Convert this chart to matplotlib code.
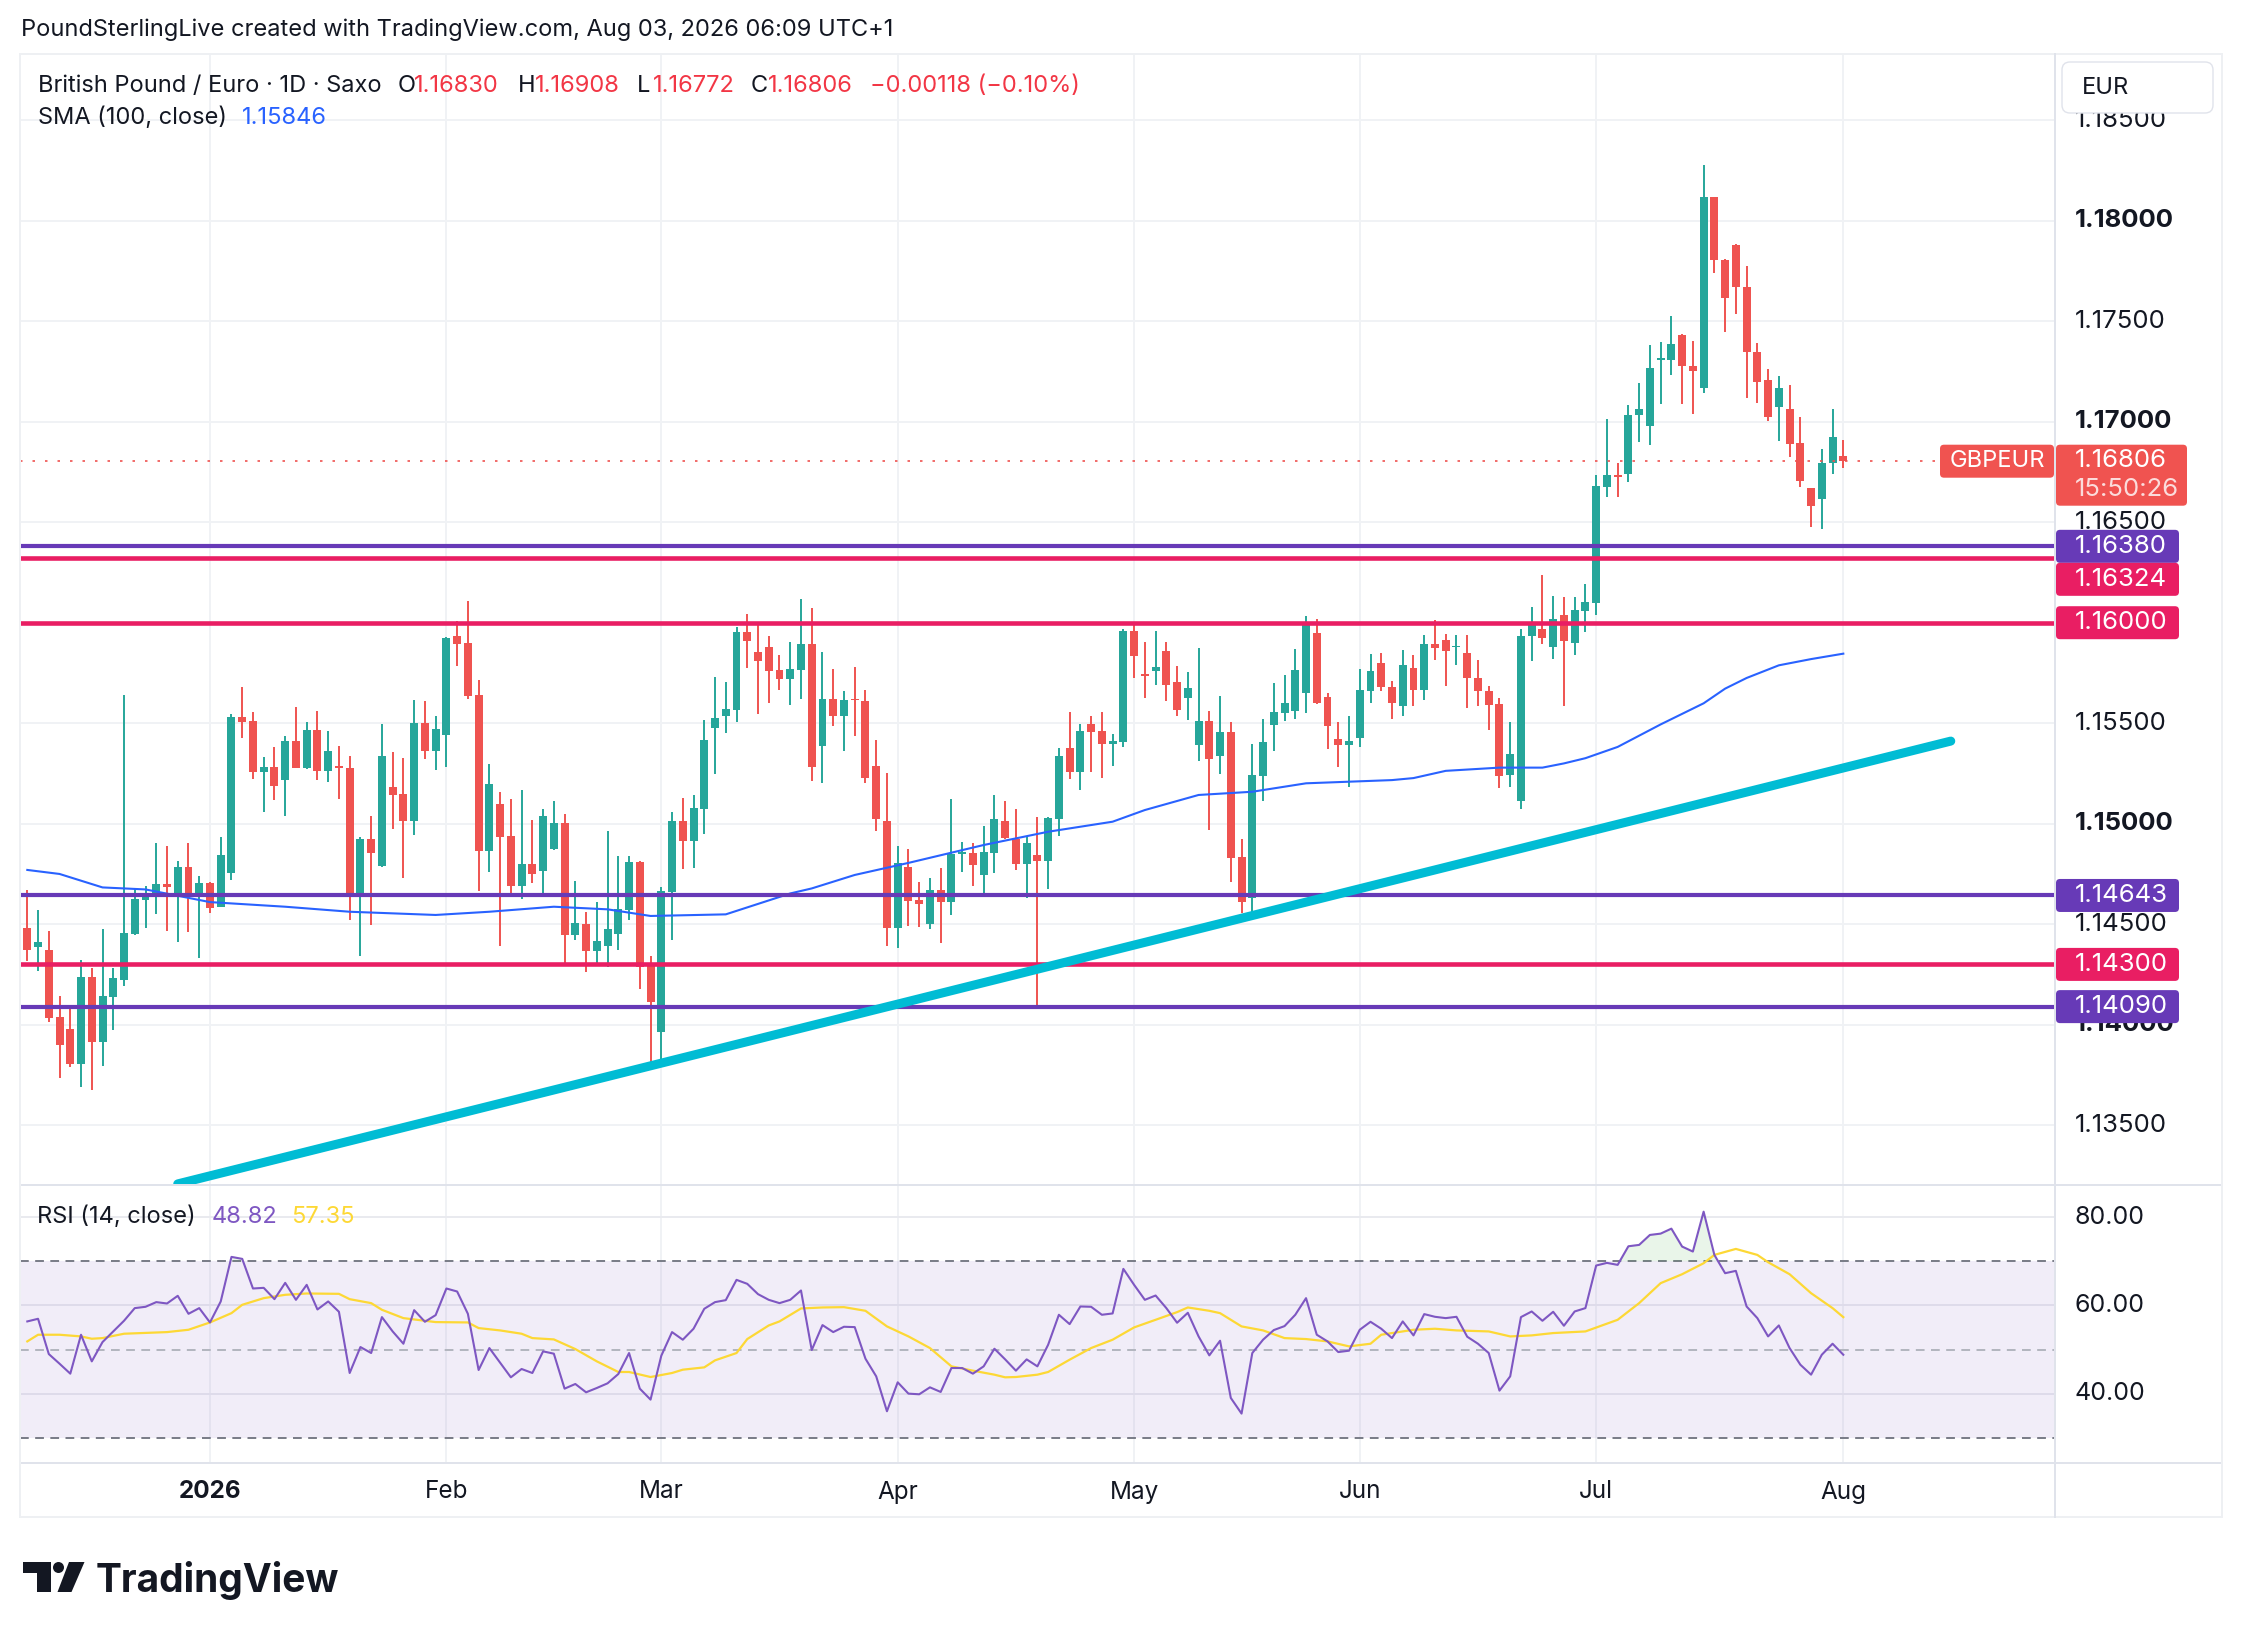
import numpy as np
import pandas as pd
import matplotlib
matplotlib.use('Agg')
import matplotlib.pyplot as plt
from matplotlib.patches import FancyBboxPatch, Polygon, Circle

plt.rcParams['font.family'] = ['Inter', 'DejaVu Sans']

W, H = 2242, 1638
UP, DOWN = '#26a69a', '#ef5350'
GRID = '#f0f2f5'
BORDER = '#e0e3eb'
TXT = '#131722'

# daily bars, Dec 9 2025 .. Aug 3 2026
dates = pd.bdate_range('2025-12-09', '2026-08-03')

opens = [1.14481, 1.14388, 1.14371, 1.14038, 1.13978, 1.13806, 1.14237, 1.13915, 1.14139, 1.14224,
         1.14453, 1.14622, 1.14642, 1.14700, 1.14642, 1.14784, 1.14642, 1.14705, 1.14587, 1.14756,
         1.15531, 1.15511, 1.15259, 1.15282, 1.15219, 1.15411, 1.15279, 1.15466, 1.15264, 1.15285,
         1.15277, 1.14657, 1.14924, 1.14791, 1.15182, 1.15148, 1.15015, 1.15501, 1.15363, 1.15443,
         1.15934, 1.15899, 1.15640, 1.14866, 1.15098, 1.14939, 1.14692, 1.14799, 1.14766, 1.14876,
         1.15003, 1.14448, 1.14501, 1.14368, 1.14393, 1.14453, 1.14572, 1.14809, 1.14294, 1.13965,
         1.14662, 1.15013, 1.14915, 1.15075, 1.15478, 1.15537, 1.15567, 1.15954, 1.15854, 1.15879,
         1.15765, 1.15721, 1.15766, 1.15894, 1.15388, 1.15620, 1.15537, 1.15620, 1.15610, 1.15287,
         1.15013, 1.14483, 1.14784, 1.14622, 1.14502, 1.14670, 1.14612, 1.14849, 1.14854, 1.14746,
         1.14856, 1.15013, 1.14924, 1.14801, 1.14844, 1.14816, 1.15025, 1.15376, 1.15259, 1.15496,
         1.15461, 1.15398, 1.15408, 1.15959, 1.15743, 1.15761, 1.15859, 1.15705, 1.15627, 1.15393,
         1.15511, 1.15338, 1.15456, 1.14834, 1.14632, 1.15239, 1.15493, 1.15552, 1.15562, 1.15652,
         1.15949, 1.15630, 1.15421, 1.15393, 1.15428, 1.15662, 1.15800, 1.15679, 1.15588, 1.15775,
         1.15664, 1.15893, 1.15912, 1.15878, 1.15847, 1.15727, 1.15660, 1.15597, 1.15244, 1.15113,
         1.15933, 1.15971, 1.15878, 1.16040, 1.15897, 1.16057, 1.16097, 1.16676, 1.16737, 1.16742,
         1.17032, 1.16981, 1.17307, 1.17305, 1.17431, 1.17277, 1.17166, 1.18118, 1.17805, 1.17878,
         1.17672, 1.17349, 1.17206, 1.17071, 1.17063, 1.16895, 1.16670, 1.16616, 1.16796, 1.16830]

highs = [1.14670, 1.14570, 1.14466, 1.14143, 1.14083, 1.14322, 1.14284, 1.14476, 1.14284, 1.15640,
         1.14680, 1.14690, 1.14904, 1.14889, 1.14814, 1.14904, 1.14740, 1.14710, 1.14934, 1.15546,
         1.15680, 1.15556, 1.15332, 1.15381, 1.15436, 1.15580, 1.15506, 1.15561, 1.15461, 1.15386,
         1.15337, 1.14934, 1.15038, 1.15496, 1.15357, 1.15327, 1.15615, 1.15610, 1.15536, 1.15930,
         1.16008, 1.16108, 1.15715, 1.15297, 1.15158, 1.15123, 1.15167, 1.15018, 1.15073, 1.15113,
         1.15048, 1.14715, 1.14561, 1.14610, 1.14964, 1.14839, 1.14839, 1.14814, 1.14342, 1.14685,
         1.15058, 1.15128, 1.15143, 1.15516, 1.15730, 1.15705, 1.15978, 1.16043, 1.16003, 1.15934,
         1.15839, 1.15904, 1.16118, 1.16073, 1.15854, 1.15769, 1.15660, 1.15779, 1.15665, 1.15416,
         1.15252, 1.14889, 1.14874, 1.14710, 1.14730, 1.14779, 1.15123, 1.14909, 1.14904, 1.14988,
         1.15143, 1.15113, 1.15073, 1.14934, 1.15033, 1.15033, 1.15376, 1.15556, 1.15496, 1.15536,
         1.15556, 1.15446, 1.15968, 1.16003, 1.15904, 1.15959, 1.15904, 1.15784, 1.15755, 1.15874,
         1.15561, 1.15635, 1.15506, 1.14924, 1.15396, 1.15521, 1.15700, 1.15740, 1.15869, 1.16033,
         1.16018, 1.15650, 1.15506, 1.15536, 1.15769, 1.15844, 1.15849, 1.15710, 1.15866, 1.15840,
         1.15941, 1.16011, 1.15945, 1.15941, 1.15941, 1.15815, 1.15685, 1.15626, 1.15504, 1.15971,
         1.16076, 1.16239, 1.16134, 1.16130, 1.16130, 1.16195, 1.16737, 1.17015, 1.16796, 1.17084,
         1.17193, 1.17382, 1.17395, 1.17527, 1.17437, 1.17403, 1.18277, 1.18118, 1.17809, 1.17882,
         1.17777, 1.17391, 1.17263, 1.17229, 1.17183, 1.17021, 1.16670, 1.16863, 1.17063, 1.16908]

lows = [1.14318, 1.14269, 1.14015, 1.13736, 1.13791, 1.13692, 1.13677, 1.13796, 1.13975, 1.14194,
        1.14448, 1.14483, 1.14552, 1.14468, 1.14413, 1.14463, 1.14333, 1.14557, 1.14584, 1.14721,
        1.15428, 1.15224, 1.15060, 1.15119, 1.15040, 1.15275, 1.15274, 1.15219, 1.15209, 1.15124,
        1.14522, 1.14343, 1.14497, 1.14786, 1.14975, 1.14731, 1.14945, 1.15323, 1.15269, 1.15284,
        1.15786, 1.15622, 1.14667, 1.14761, 1.14393, 1.14652, 1.14627, 1.14706, 1.14657, 1.14870,
        1.14299, 1.14423, 1.14264, 1.14303, 1.14289, 1.14373, 1.14522, 1.14179, 1.13776, 1.13796,
        1.14423, 1.14776, 1.14781, 1.14950, 1.15249, 1.15453, 1.15507, 1.15776, 1.15547, 1.15602,
        1.15667, 1.15592, 1.15622, 1.15214, 1.15204, 1.15488, 1.15363, 1.15438, 1.15204, 1.14965,
        1.14393, 1.14383, 1.14493, 1.14488, 1.14478, 1.14408, 1.14547, 1.14760, 1.14692, 1.14647,
        1.14756, 1.14925, 1.14771, 1.14632, 1.14098, 1.14677, 1.14940, 1.15224, 1.15169, 1.15259,
        1.15229, 1.15289, 1.15383, 1.15726, 1.15627, 1.15692, 1.15612, 1.15537, 1.15517, 1.15313,
        1.14970, 1.15249, 1.14711, 1.14557, 1.14552, 1.15114, 1.15363, 1.15512, 1.15522, 1.15552,
        1.15597, 1.15373, 1.15284, 1.15184, 1.15383, 1.15602, 1.15660, 1.15519, 1.15538, 1.15584,
        1.15613, 1.15813, 1.15683, 1.15788, 1.15578, 1.15588, 1.15468, 1.15179, 1.15183, 1.15074,
        1.15809, 1.15893, 1.15817, 1.15588, 1.15838, 1.15954, 1.16038, 1.16626, 1.16626, 1.16702,
        1.16901, 1.16884, 1.17086, 1.17231, 1.17086, 1.17036, 1.17145, 1.17742, 1.17447, 1.17536,
        1.17118, 1.17095, 1.17006, 1.16905, 1.16826, 1.16676, 1.16477, 1.16466, 1.16742, 1.16772]

closes = [1.14373, 1.14411, 1.14035, 1.13900, 1.13806, 1.14237, 1.13915, 1.14143, 1.14232, 1.14456,
          1.14625, 1.14647, 1.14700, 1.14687, 1.14784, 1.14642, 1.14705, 1.14582, 1.14844, 1.15531,
          1.15507, 1.15259, 1.15282, 1.15189, 1.15411, 1.15279, 1.15466, 1.15264, 1.15362, 1.15279,
          1.14633, 1.14924, 1.14856, 1.15337, 1.15144, 1.15015, 1.15501, 1.15363, 1.15471, 1.15924,
          1.15896, 1.15637, 1.14866, 1.15197, 1.14935, 1.14692, 1.14799, 1.14751, 1.15038, 1.15003,
          1.14448, 1.14507, 1.14368, 1.14418, 1.14478, 1.14577, 1.14809, 1.14289, 1.14114, 1.14665,
          1.15013, 1.14915, 1.15078, 1.15416, 1.15526, 1.15570, 1.15954, 1.15910, 1.15811, 1.15761,
          1.15721, 1.15769, 1.15894, 1.15284, 1.15620, 1.15537, 1.15615, 1.15614, 1.15229, 1.15025,
          1.14483, 1.14804, 1.14617, 1.14602, 1.14670, 1.14612, 1.14849, 1.14859, 1.14796, 1.14859,
          1.15023, 1.14930, 1.14801, 1.14904, 1.14816, 1.15028, 1.15337, 1.15259, 1.15461, 1.15458,
          1.15398, 1.15411, 1.15959, 1.15836, 1.15736, 1.15779, 1.15692, 1.15567, 1.15675, 1.15511,
          1.15323, 1.15456, 1.14831, 1.14612, 1.15242, 1.15406, 1.15556, 1.15600, 1.15765, 1.16003,
          1.15600, 1.15488, 1.15393, 1.15411, 1.15665, 1.15760, 1.15679, 1.15603, 1.15790, 1.15664,
          1.15895, 1.15872, 1.15857, 1.15884, 1.15723, 1.15658, 1.15592, 1.15239, 1.15349, 1.15935,
          1.16004, 1.15922, 1.16019, 1.15908, 1.16061, 1.16101, 1.16679, 1.16737, 1.16723, 1.17034,
          1.17063, 1.17269, 1.17315, 1.17389, 1.17275, 1.17250, 1.18118, 1.17805, 1.17616, 1.17670,
          1.17345, 1.17200, 1.17021, 1.17168, 1.16891, 1.16706, 1.16580, 1.16796, 1.16922, 1.16806]

# SMA(100) at these bars
sma_idx = [0, 3, 7, 11, 17, 24, 30, 38, 43, 49, 54, 58, 65, 71, 73, 77, 82, 89, 95, 101,
           104, 109, 114, 119, 127, 129, 132, 137, 141, 143, 145, 148, 152, 156, 158, 160, 163, 166, 169]
sma_val = [1.14770, 1.14750, 1.14683, 1.14673, 1.14610, 1.14587, 1.14562, 1.14546, 1.14562, 1.14587,
           1.14574, 1.14541, 1.14549, 1.14653, 1.14678, 1.14745, 1.14805, 1.14894, 1.14960, 1.15010,
           1.15068, 1.15143, 1.15159, 1.15201, 1.15217, 1.15227, 1.15263, 1.15279, 1.15279, 1.15300,
           1.15326, 1.15382, 1.15494, 1.15599, 1.15672, 1.15725, 1.15788, 1.15819, 1.15846]

rsi = [56.38, 56.98, 48.98, 46.79, 44.53, 53.36, 47.32, 51.70, 54.11, 56.53,
       59.40, 59.70, 60.76, 60.45, 62.19, 58.11, 59.40, 56.15, 60.91, 71.02,
       70.57, 63.85, 64.00, 61.43, 65.13, 61.28, 64.68, 59.09, 60.91, 58.57,
       44.68, 50.57, 49.21, 57.36, 54.11, 51.32, 58.94, 56.30, 57.81, 63.85,
       63.17, 58.11, 45.36, 50.34, 47.02, 43.70, 45.59, 44.68, 49.59, 49.06,
       41.13, 42.19, 40.30, 41.28, 42.34, 44.45, 49.21, 41.13, 38.64, 48.60,
       53.96, 52.23, 54.72, 59.25, 60.76, 61.21, 65.81, 64.91, 62.57, 61.28,
       60.53, 61.28, 63.40, 49.89, 55.55, 53.96, 55.17, 55.09, 47.92, 43.92,
       36.00, 42.57, 40.00, 39.85, 41.43, 40.38, 45.81, 45.81, 44.53, 46.19,
       50.19, 47.77, 45.21, 47.77, 46.19, 51.09, 57.89, 55.77, 59.77, 59.70,
       57.89, 58.19, 68.30, 64.68, 61.28, 62.26, 59.40, 56.08, 58.34, 52.98,
       48.68, 52.00, 39.02, 35.47, 49.21, 52.23, 54.42, 55.32, 57.89, 61.66,
       53.36, 51.85, 49.43, 49.74, 54.49, 56.30, 54.72, 52.60, 56.38, 53.21,
       58.04, 57.43, 57.13, 57.43, 52.91, 51.32, 49.21, 40.68, 43.92, 57.36,
       58.64, 56.53, 58.57, 55.40, 58.64, 59.40, 69.06, 69.66, 69.21, 73.43,
       73.74, 76.00, 76.30, 77.43, 73.36, 72.23, 81.28, 71.47, 67.32, 67.85,
       59.77, 57.13, 52.98, 55.47, 50.34, 46.57, 44.30, 48.83, 51.32, 48.82]

# RSI-based MA
rsi_ma_idx = [0, 1, 3, 5, 6, 7, 9, 13, 15, 17, 19, 20, 22, 24, 26, 29, 30, 32, 33, 35,
              38, 41, 42, 44, 46, 47, 49, 51, 53, 55, 56, 58, 60, 61, 63, 64, 66, 67, 69, 70,
              72, 74, 76, 78, 80, 82, 84, 86, 88, 90, 91, 92, 94, 95, 97, 99, 101, 103, 105, 107,
              108, 110, 111, 113, 115, 117, 119, 121, 123, 125, 126, 129, 131, 133, 136, 138, 140, 142, 145, 148,
              150, 152, 154, 156, 157, 159, 161, 162, 164, 166, 168, 169]
rsi_ma_val = [51.85, 53.36, 53.36, 52.98, 52.45, 52.60, 53.59, 53.96, 54.49, 56.15,
              58.26, 60.15, 61.66, 62.42, 62.72, 62.64, 61.43, 60.53, 59.02, 57.13,
              56.23, 56.15, 54.87, 54.34, 53.59, 52.60, 52.30, 50.11, 47.32, 44.91,
              44.91, 43.77, 44.68, 45.43, 45.96, 47.55, 49.21, 52.38, 55.47, 56.38,
              59.32, 59.55, 59.62, 58.79, 55.25, 52.98, 50.34, 46.19, 45.21, 44.30,
              43.70, 43.77, 44.30, 44.91, 47.70, 50.34, 52.23, 55.02, 56.75, 58.49,
              59.55, 58.79, 58.26, 55.25, 54.34, 52.60, 52.38, 51.85, 50.72, 51.32,
              53.36, 54.49, 54.72, 54.34, 54.11, 52.98, 53.21, 53.74, 54.11, 56.75,
              60.53, 65.06, 67.09, 69.58, 71.47, 72.83, 71.47, 69.81, 67.09, 62.79,
              59.40, 57.35]

levels = [1.16380, 1.16324, 1.16000, 1.14643, 1.14300, 1.14090]
level_colors = ['#673ab7', '#e91e63', '#e91e63', '#673ab7', '#e91e63', '#673ab7']

trend_idx = [14, 179]
trend_val = [1.13208, 1.15411]

last_price = 1.16806
countdown = '15:50:26'
price_ticks = [1.135, 1.140, 1.145, 1.150, 1.155, 1.160, 1.165, 1.170, 1.175, 1.180, 1.185]
rsi_ticks = [40, 60, 80]

# ---------------------------------------------------------------
fig = plt.figure(figsize=(W / 100, H / 100), dpi=100)
fig.patch.set_facecolor('white')


def rect(x0, y0, x1, y1):
    return [x0 / W, 1 - y1 / H, (x1 - x0) / W, (y1 - y0) / H]


ax = fig.add_axes(rect(20, 54, 2055, 1184))
ax2 = fig.add_axes(rect(20, 1185, 2055, 1462))
ov = fig.add_axes([0, 0, 1, 1], zorder=10)
ov.set_xlim(0, W)
ov.set_ylim(H, 0)
ov.axis('off')
ov.patch.set_alpha(0)

XL = (-0.68, 188.7)
for a in (ax, ax2):
    a.set_xlim(*XL)
    a.set_xticks([])
    a.set_yticks([])
    for s in a.spines.values():
        s.set_visible(False)
ax.set_ylim(1.132075, 1.188294)
ax2.set_ylim(24.49, 87.33)

x = np.arange(len(closes))
o, hi, lo, c = (np.array(v) for v in (opens, highs, lows, closes))
month_pos = [i for i in range(1, len(dates)) if dates[i].month != dates[i - 1].month]
month_lab = ['2026' if dates[i].month == 1 else dates[i].strftime('%b') for i in month_pos]

# grid
for p in price_ticks:
    ax.axhline(p, color=GRID, lw=1.4, zorder=0)
for a in (ax, ax2):
    for m in month_pos:
        a.axvline(m, color=GRID, lw=1.4, zorder=0)
for r in rsi_ticks:
    ax2.axhline(r, color='#e9eaef', lw=1.4, zorder=1)

# candles
col = np.where(c >= o, UP, DOWN)
body_lo = np.minimum(o, c)
body_h = np.maximum(np.abs(c - o), 0.00007)
ax.vlines(x, lo, hi, colors=col, lw=1.4, zorder=3)
ax.bar(x, body_h, bottom=body_lo, width=0.74, color=col, lw=0, zorder=4)

ax.plot(sma_idx, sma_val, color='#2962ff', lw=1.5, zorder=5)
for lv, lc in zip(levels, level_colors):
    ax.axhline(lv, color=lc, lw=3.3 if lc == '#e91e63' else 3.0, zorder=6)
ax.plot(trend_idx, trend_val, color='#00bcd4', lw=6.5, solid_capstyle='round', zorder=7)
ax.axhline(last_price, color=DOWN, lw=1.2, ls=(0, (1.5, 6)), zorder=5)

# RSI pane
ax2.fill_between(XL, 30, 70, color='#7e57c2', alpha=0.1, lw=0, zorder=1)
ax2.axhline(70, color='#787b86', lw=1.4, ls=(0, (4.5, 3.3)), zorder=2)
ax2.axhline(30, color='#787b86', lw=1.4, ls=(0, (4.5, 3.3)), zorder=2)
ax2.axhline(50, color='#b2b5be', lw=1.4, ls=(0, (4.5, 3.3)), zorder=2)
r = np.array(rsi)
ax2.fill_between(x, r, 70, where=r > 70, interpolate=True, color='#4caf50', alpha=0.12, lw=0, zorder=2)
ax2.plot(x, r, color='#7e57c2', lw=1.5, zorder=4)
ax2.plot(rsi_ma_idx, rsi_ma_val, color='#fdd835', lw=1.6, zorder=3)


# ---------------------------------------------------------------
# overlay: frame, texts, labels
def py(p, a=ax):
    return H - a.transData.transform((0, p))[1]


def px(i):
    return ax.transData.transform((i, 0))[0]


bl = 1.44
ov.plot([20, 2222], [54, 54], color='#eef0f3', lw=bl)
ov.plot([20, 2222], [1184.5, 1184.5], color=BORDER, lw=bl)
ov.plot([20, 2222], [1463, 1463], color=BORDER, lw=bl)
ov.plot([20, 2222], [1517, 1517], color='#eef0f3', lw=bl)
ov.plot([20, 20], [54, 1517], color='#eef0f3', lw=bl)
ov.plot([2222, 2222], [54, 1517], color='#eef0f3', lw=bl)
ov.plot([2055, 2055], [54, 1517], color=BORDER, lw=bl)

FS = 17
ov.text(21, 30, 'PoundSterlingLive created with TradingView.com, Aug 03, 2026 06:09 UTC+1',
        fontsize=FS, color=TXT, va='center')

hy = 86
ov.text(38, hy, 'British Pound / Euro · 1D · Saxo', fontsize=FS, color=TXT, va='center')
for lab, val, xl, xv in [('O', '1.16830', 398, 414), ('H', '1.16908', 518, 535),
                         ('L', '1.16772', 637, 653), ('C', '1.16806', 751, 768)]:
    ov.text(xl, hy, lab, fontsize=FS, color=TXT, va='center')
    ov.text(xv, hy, val, fontsize=FS, color='#f23645', va='center')
ov.text(870, hy, '−0.00118 (−0.10%)', fontsize=FS, color='#f23645', va='center')
ov.text(38, 118, 'SMA (100, close)', fontsize=FS, color=TXT, va='center')
ov.text(242, 118, '1.15846', fontsize=FS, color='#2962ff', va='center')

ov.text(37, 1217, 'RSI (14, close)', fontsize=FS, color=TXT, va='center')
ov.text(212, 1217, '48.82', fontsize=FS, color='#7e57c2', va='center')
ov.text(291, 1217, '57.35', fontsize=FS, color='#fdd835', va='center')

AX_FS = 18.5
# price axis labels (skip those hidden under a level label)
for p in price_ticks:
    if any(abs(py(p) - py(lv)) < 8 for lv in levels):
        continue
    bold = abs(p * 100 - round(p * 100)) < 1e-6
    ov.text(2075, py(p), f'{p:.5f}', fontsize=AX_FS, color=TXT, va='center',
            fontweight='bold' if bold else 'normal')
for rt in rsi_ticks:
    ov.text(2075, py(rt, ax2), f'{rt:.2f}', fontsize=18, color=TXT, va='center')

# time axis labels
for m, lab in zip(month_pos, month_lab):
    ov.text(px(m), 1492, lab, fontsize=17.5, color=TXT, ha='center', va='center',
            fontweight='bold' if lab == '2026' else 'normal')

# currency box
ov.add_patch(FancyBboxPatch((2062, 62), 151, 51, boxstyle='round,pad=0,rounding_size=8',
                            fc='white', ec=BORDER, lw=1.0, zorder=5))
ov.text(2082, 88, 'EUR', fontsize=17, color=TXT, va='center', zorder=6)

# last price labels
yl = py(last_price)
ov.add_patch(FancyBboxPatch((1940, yl - 16), 114, 33, boxstyle='round,pad=0,rounding_size=4',
                            fc='#f05350', ec='none', zorder=5))
ov.text(1997, yl, 'GBPEUR', fontsize=17, color='white', ha='center', va='center', zorder=6)
ov.add_patch(FancyBboxPatch((2056, yl - 16), 131, 61, boxstyle='round,pad=0,rounding_size=4',
                            fc='#f05350', ec='none', zorder=5))
ov.text(2075, yl, f'{last_price:.5f}', fontsize=AX_FS, color='white', va='center', zorder=6)
ov.text(2075, yl + 29, countdown, fontsize=AX_FS, color='white', alpha=0.8, va='center', zorder=6)

# level labels, pushed down when they would overlap
bh = 33
prev_bottom = yl + 45
for lv, lc in sorted(zip(levels, level_colors), key=lambda t: -t[0]):
    top = max(py(lv) - bh / 2, prev_bottom)
    ov.add_patch(FancyBboxPatch((2056, top), 123, bh, boxstyle='round,pad=0,rounding_size=4',
                                fc=lc, ec='none', zorder=5))
    ov.text(2075, top + bh / 2, f'{lv:.5f}', fontsize=AX_FS, color='white', va='center', zorder=6)
    prev_bottom = top + bh

# TradingView logo
LOGO = '#131722'
ov.add_patch(Polygon([(23, 1562), (51, 1562), (51, 1592), (37, 1592), (37, 1573), (23, 1573)],
                     closed=True, fc=LOGO, ec='none'))
ov.add_patch(Circle((58.5, 1567.5), 5.5, fc=LOGO, ec='none'))
ov.add_patch(Polygon([(69, 1562), (84.5, 1562), (71.5, 1592), (57.5, 1592)],
                     closed=True, fc=LOGO, ec='none'))
ov.text(96, 1592, 'TradingView', fontsize=28, fontweight='bold', color=LOGO, va='baseline')

fig.savefig('out.png', dpi=100, facecolor='white')
